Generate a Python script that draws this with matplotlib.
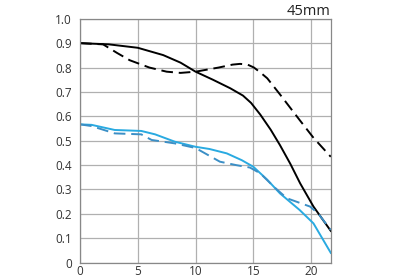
import matplotlib
matplotlib.use("Agg")
import matplotlib.pyplot as plt

# MTF values (image height in mm vs contrast)
x_black_solid = [0, 2.5, 5, 7.2, 8.7, 10, 11.5, 13, 14.1, 14.8, 15.6, 16.5, 17.3, 18.2, 19.05, 20.2, 21.7]
y_black_solid = [0.90, 0.895, 0.881, 0.851, 0.82, 0.783, 0.75, 0.715, 0.685, 0.655, 0.607, 0.545, 0.482, 0.405, 0.325, 0.23, 0.13]

x_black_dash = [0, 2, 3.2, 4.3, 6, 7.5, 8.7, 10, 12, 13.2, 13.85, 14.5, 15.05, 15.6, 16.2, 17.3, 19, 20.2, 21.7]
y_black_dash = [0.90, 0.895, 0.86, 0.83, 0.80, 0.783, 0.778, 0.783, 0.80, 0.812, 0.815, 0.812, 0.80, 0.78, 0.756, 0.69, 0.585, 0.512, 0.434]

x_cyan_solid = [0, 1, 3, 5.3, 6.5, 8.2, 10, 11.2, 12.7, 14, 15, 16.2, 17.3, 19, 20.2, 21.7]
y_cyan_solid = [0.567, 0.565, 0.544, 0.54, 0.526, 0.496, 0.475, 0.466, 0.448, 0.42, 0.393, 0.34, 0.284, 0.216, 0.161, 0.04]

x_cyan_dash = [0, 1, 3, 5.3, 6.2, 8.2, 10, 12.1, 13.5, 14.7, 15.6, 16.8, 17.9, 19.9, 20.6, 21.7]
y_cyan_dash = [0.567, 0.56, 0.53, 0.526, 0.503, 0.489, 0.47, 0.414, 0.40, 0.39, 0.366, 0.31, 0.264, 0.23, 0.202, 0.134]

x_ticks = [0, 5, 10, 15, 20]
y_ticks = [0, 0.1, 0.2, 0.3, 0.4, 0.5, 0.6, 0.7, 0.8, 0.9, 1.0]
y_labels = ["0", "0.1", "0.2", "0.3", "0.4", "0.5", "0.6", "0.7", "0.8", "0.9", "1.0"]

plt.rcParams['font.family'] = ['Open Sans', 'DejaVu Sans']

fig = plt.figure(figsize=(4, 2.8), dpi=100)
ax = fig.add_axes([0.2, 0.062, 0.627, 0.871])

ax.plot(x_black_solid, y_black_solid, color='black', lw=1.4)
ax.plot(x_black_dash, y_black_dash, color='black', lw=1.4, dashes=(6, 3))
ax.plot(x_cyan_solid, y_cyan_solid, color='#29aae1', lw=1.4)
ax.plot(x_cyan_dash, y_cyan_dash, color='#3b8fc6', lw=1.4, dashes=(6, 3))

ax.set_xlim(0, 21.7)
ax.set_ylim(0, 1.0)
ax.set_xticks(x_ticks)
ax.set_yticks(y_ticks)
ax.set_yticklabels(y_labels)
ax.tick_params(length=0, labelsize=8.5, colors='#333333')
ax.tick_params(axis='y', pad=6)
ax.tick_params(axis='x', pad=2)
ax.grid(True, color='#b0b0b0', lw=0.9)
for s in ax.spines.values():
    s.set_color('#888888')
    s.set_linewidth(0.9)

ax.set_title("45mm", loc='right', fontsize=10.5, color='#222222', pad=2)

fig.savefig("out.png", dpi=100)
